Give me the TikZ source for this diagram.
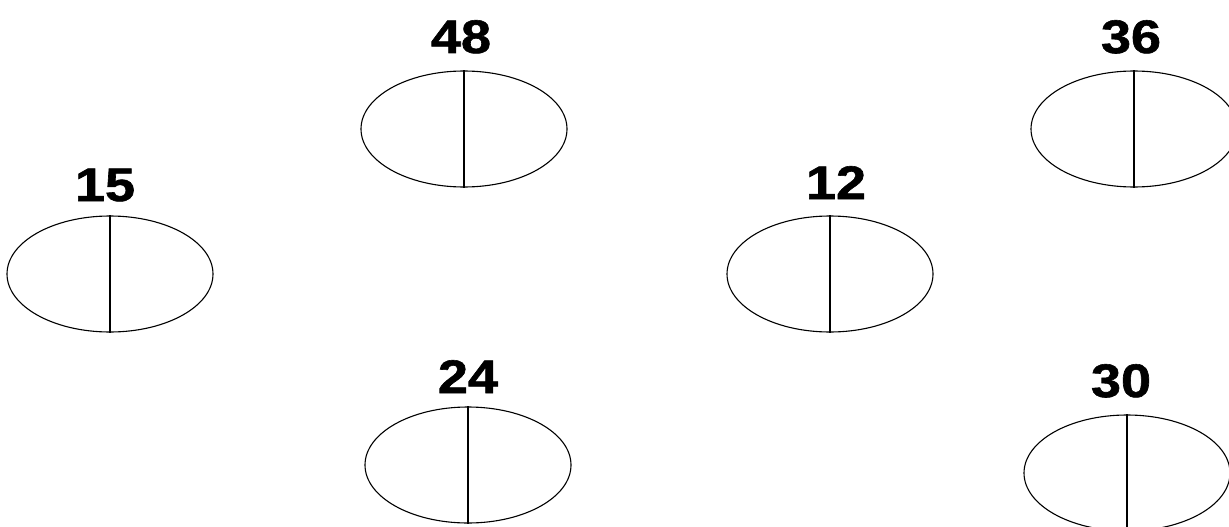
\documentclass[tikz,border=0pt]{standalone}
\usepackage{fontspec}
\setmainfont{Liberation Sans}
\newfontfamily\heavyfont[FakeBold=1.2]{Liberation Sans Bold}
\usetikzlibrary{shapes.geometric}
\begin{document}
\begin{tikzpicture}[x=1pt,y=-1pt,
  cell/.style={draw=black,line width=1.1pt,ellipse,minimum width=206pt,minimum height=116pt,inner sep=0pt},
  divider/.style={draw=black,line width=1.2pt},
  lbl/.style={anchor=base,inner sep=0pt,font=\fontsize{47}{47}\selectfont\heavyfont,xscale=1.15,transform shape}]
\useasboundingbox[fill=white] (0,0) rectangle (1229,527);
\node[cell] (e48) at (464,129) {};
\node[cell] (e15) at (110,274) {};
\node[cell] (e24) at (468,465) {};
\node[cell] (e12) at (830,274) {};
\node[cell] (e36) at (1134,129) {};
\node[cell] (e30) at (1127,473) {};
\foreach \n in {e48,e15,e24,e12,e36,e30}{\draw[divider] (\n.north) -- (\n.south);}
\node[lbl] (t48) at (461,53) {48};
\node[lbl] (t15) at (105,201) {15};
\node[lbl] (t24) at (468,393) {24};
\node[lbl] (t12) at (836,199) {12};
\node[lbl] (t36) at (1131,53) {36};
\node[lbl] (t30) at (1121,397) {30};
\end{tikzpicture}
\end{document}
